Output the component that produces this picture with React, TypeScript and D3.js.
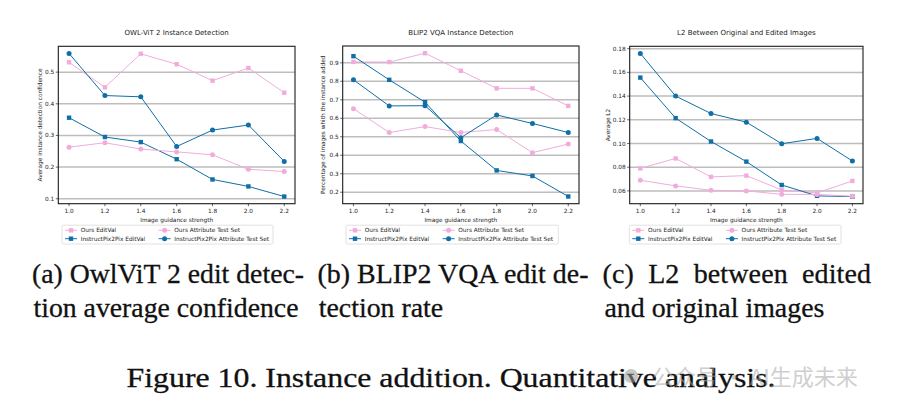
import React from "react";
import * as d3 from "d3";

const guidance = [1.0, 1.2, 1.4, 1.6, 1.8, 2.0, 2.2];
const xTickLabels = ["1.0", "1.2", "1.4", "1.6", "1.8", "2.0", "2.2"];
const seriesNames = ["Ours EditVal", "InstructPix2Pix EditVal", "Ours Attribute Test Set", "InstructPix2Pix Attribute Test Set"];

// Chart (a) OWL-ViT 2
const owlOursEdit = [0.531, 0.452, 0.558, 0.525, 0.473, 0.513, 0.435];
const owlIp2pEdit = [0.356, 0.295, 0.279, 0.225, 0.161, 0.139, 0.107];
const owlOursAttr = [0.263, 0.277, 0.257, 0.248, 0.239, 0.193, 0.186];
const owlIp2pAttr = [0.559, 0.426, 0.422, 0.265, 0.317, 0.333, 0.218];
const owlYTicks = [0.1, 0.2, 0.3, 0.4, 0.5];

// Chart (b) BLIP2 VQA
const blipOursEdit = [0.905, 0.904, 0.952, 0.857, 0.762, 0.762, 0.667];
const blipIp2pEdit = [0.936, 0.808, 0.687, 0.477, 0.318, 0.288, 0.177];
const blipOursAttr = [0.652, 0.523, 0.555, 0.523, 0.539, 0.414, 0.461];
const blipIp2pAttr = [0.808, 0.667, 0.668, 0.495, 0.618, 0.572, 0.523];
const blipYTicks = [0.2, 0.3, 0.4, 0.5, 0.6, 0.7, 0.8, 0.9];

// Chart (c) L2
const l2OursEdit = [0.079, 0.0874, 0.0718, 0.0729, 0.0608, 0.0583, 0.0684];
const l2Ip2pEdit = [0.1556, 0.1214, 0.1017, 0.0847, 0.065, 0.0558, 0.0552];
const l2OursAttr = [0.069, 0.0642, 0.0605, 0.06, 0.0571, 0.057, 0.0555];
const l2Ip2pAttr = [0.176, 0.14, 0.1253, 0.118, 0.0998, 0.1043, 0.0852];
const l2YTicks = [0.06, 0.08, 0.1, 0.12, 0.14, 0.16, 0.18];

const PINK = "#f2acdb";
const BLUE = "#106fa7";
const FONT = "'DejaVu Sans', sans-serif";
const SERIF = "'Liberation Serif', 'Times New Roman', Times, serif";

type ChartCfg = {
  title: string;
  ylabel: string;
  ylabelX: number;
  left: number; right: number; top: number; bottom: number;
  yDomain: [number, number];
  yTicks: number[];
  yFmt: (v: number) => string;
  series: number[][];
  legendX: number;
  legendW: number;
};

const charts: ChartCfg[] = [
  {
    title: "OWL-ViT 2 Instance Detection",
    ylabel: "Average instance detection confidence",
    ylabelX: 40,
    left: 58.3, right: 295, top: 46.3, bottom: 203.7,
    yDomain: [0.0844, 0.5816],
    yTicks: owlYTicks,
    yFmt: d3.format(".1f"),
    series: [owlOursEdit, owlIp2pEdit, owlOursAttr, owlIp2pAttr],
    legendX: 62, legendW: 211,
  },
  {
    title: "BLIP2 VQA Instance Detection",
    ylabel: "Percentage of images whith the instance added",
    ylabelX: 322.7,
    left: 342.7, right: 579, top: 46, bottom: 203.7,
    yDomain: [0.138, 0.991],
    yTicks: blipYTicks,
    yFmt: d3.format(".1f"),
    series: [blipOursEdit, blipIp2pEdit, blipOursAttr, blipIp2pAttr],
    legendX: 346, legendW: 212.3,
  },
  {
    title: "L2 Between Original and Edited Images",
    ylabel: "Average L2",
    ylabelX: 607.5,
    left: 629.7, right: 863, top: 46.3, bottom: 203.7,
    yDomain: [0.0492, 0.182],
    yTicks: l2YTicks,
    yFmt: d3.format(".2f"),
    series: [l2OursEdit, l2Ip2pEdit, l2OursAttr, l2Ip2pAttr],
    legendX: 629.3, legendW: 211.7,
  },
];

const seriesColor = [PINK, BLUE, PINK, BLUE];
const seriesSquare = [true, true, false, false];

function Marker({ x, y, square, color }: { x: number; y: number; square: boolean; color: string }) {
  if (square) return <rect x={x - 2.2} y={y - 2.2} width={4.4} height={4.4} fill={color} />;
  return <circle cx={x} cy={y} r={2.5} fill={color} />;
}

function Chart({ cfg }: { cfg: ChartCfg }) {
  const x = d3.scaleLinear().domain([0.94, 2.26]).range([cfg.left, cfg.right]);
  const y = d3.scaleLinear().domain(cfg.yDomain).range([cfg.bottom, cfg.top]);
  const line = d3
    .line<number>()
    .x((_, i) => x(guidance[i]))
    .y((d) => y(d));
  const cx = (cfg.left + cfg.right) / 2;
  const cy = (cfg.top + cfg.bottom) / 2;
  const lx = cfg.legendX;
  const rows = [230.3, 238.7];
  return (
    <g>
      <text x={cx} y={35} textAnchor="middle" fontFamily={FONT} fontSize={7} fill="#222">
        {cfg.title}
      </text>
      {cfg.yTicks.map((t) => (
        <line key={"g" + t} x1={cfg.left} x2={cfg.right} y1={y(t)} y2={y(t)} stroke="#bdbdbd" strokeWidth={1.5} />
      ))}
      {cfg.series.map((s, i) => (
        <g key={"s" + i}>
          <path d={line(s) || ""} fill="none" stroke={seriesColor[i]} strokeWidth={1} />
          {s.map((v, j) => (
            <Marker key={j} x={x(guidance[j])} y={y(v)} square={seriesSquare[i]} color={seriesColor[i]} />
          ))}
        </g>
      ))}
      <rect x={cfg.left} y={cfg.top} width={cfg.right - cfg.left} height={cfg.bottom - cfg.top} fill="none" stroke="#1a1a1a" strokeWidth={1.1} />
      {cfg.yTicks.map((t) => (
        <g key={"yt" + t}>
          <line x1={cfg.left - 2.5} x2={cfg.left} y1={y(t)} y2={y(t)} stroke="#222" strokeWidth={0.7} />
          <text x={cfg.left - 4} y={y(t)} dy="0.35em" textAnchor="end" fontFamily={FONT} fontSize={5.8} fill="#222">
            {cfg.yFmt(t)}
          </text>
        </g>
      ))}
      {guidance.map((g, i) => (
        <g key={"xt" + g}>
          <line x1={x(g)} x2={x(g)} y1={cfg.bottom} y2={cfg.bottom + 2.5} stroke="#222" strokeWidth={0.7} />
          <text x={x(g)} y={212.8} textAnchor="middle" fontFamily={FONT} fontSize={5.8} fill="#222">
            {xTickLabels[i]}
          </text>
        </g>
      ))}
      <text x={cx} y={221.5} textAnchor="middle" fontFamily={FONT} fontSize={5.8} fill="#222">
        Image guidance strength
      </text>
      <text
        transform={`translate(${cfg.ylabelX},${cy}) rotate(-90)`}
        dy="0.35em"
        textAnchor="middle"
        fontFamily={FONT}
        fontSize={5.8}
        fill="#222"
      >
        {cfg.ylabel}
      </text>
      <rect x={lx} y={225.2} width={cfg.legendW} height={18.8} rx={1.5} fill="#fff" stroke="#d4d4d4" strokeWidth={0.7} />
      {seriesNames.map((name, i) => {
        const col = i < 2 ? 0 : 1;
        const row = i % 2;
        const hx = lx + 3 + col * 93.6;
        const ry = rows[row];
        return (
          <g key={"l" + i}>
            <line x1={hx} x2={hx + 12} y1={ry} y2={ry} stroke={seriesColor[i]} strokeWidth={1} />
            <Marker x={hx + 6} y={ry} square={seriesSquare[i]} color={seriesColor[i]} />
            <text x={hx + 15.7} y={ry} dy="0.35em" fontFamily={FONT} fontSize={5.8} fill="#222">
              {name}
            </text>
          </g>
        );
      })}
    </g>
  );
}

const captionLines = [
  { text: "(a) OwlViT 2 edit detec-", x: 32, y: 283, w: 272, adj: "spacingAndGlyphs" },
  { text: "tion average confidence", x: 33.5, y: 316.5, w: 265, adj: "spacingAndGlyphs" },
  { text: "(b) BLIP2 VQA edit de-", x: 317.5, y: 283, w: 271, adj: "spacingAndGlyphs" },
  { text: "tection rate", x: 318.7, y: 316.5, w: 124.5, adj: "spacingAndGlyphs" },
  { text: "(c)  L2  between  edited", x: 602.5, y: 283, w: 268.5, adj: "spacing" },
  { text: "and original images", x: 604.4, y: 316.5, w: 220, adj: "spacingAndGlyphs" },
];

export default function App() {
  return (
    <svg
      width={904}
      height={414}
      viewBox="0 0 904 414"
      style={{ position: "absolute", left: 0, top: 0, background: "#fff" }}
    >
      <rect x={0} y={0} width={904} height={414} fill="#fff" />
      {charts.map((c, i) => (
        <Chart key={i} cfg={c} />
      ))}
      {captionLines.map((c, i) => (
        <text
          key={i}
          x={c.x}
          y={c.y}
          fontFamily={SERIF}
          fontSize={28}
          fill="#111"
          stroke="#111"
          strokeWidth={0.3}
          textLength={c.w}
          lengthAdjust={c.adj}
          style={{ whiteSpace: "pre" }}
        >
          {c.text}
        </text>
      ))}
      <text
        x={126.5}
        y={387}
        fontFamily={SERIF}
        fontSize={28}
        fill="#111"
        stroke="#111"
        strokeWidth={0.3}
        textLength={649}
        lengthAdjust="spacingAndGlyphs"
      >
        Figure 10. Instance addition. Quantitative analysis.
      </text>
      <g opacity={0.55}>
        <circle cx={631} cy={376} r={7} fill="#9a9a9a" />
        <text x={652} y={385} fontFamily="'Noto Sans CJK SC', sans-serif" fontSize={22} fill="#a8a8a8">
          公众号 · AI生成未来
        </text>
      </g>
    </svg>
  );
}
